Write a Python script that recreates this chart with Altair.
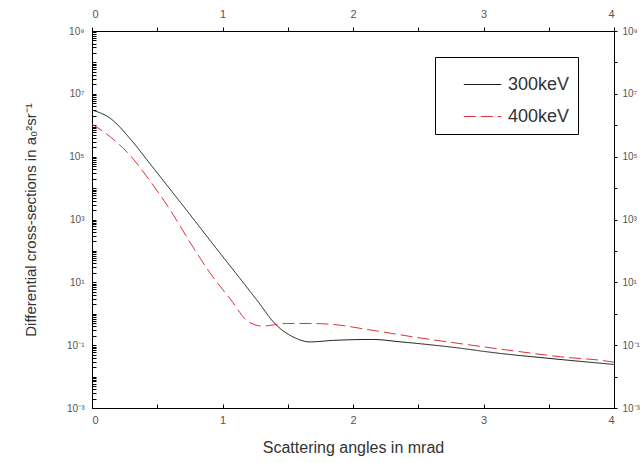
import altair as alt
import pandas as pd

series_names = ["300keV", "400keV"]

angle_300 = [0.00, 0.14, 0.30, 0.44, 0.58, 0.75, 0.93, 1.11, 1.26, 1.41, 1.54, 1.67, 1.85, 2.15, 2.36, 2.74, 3.13, 3.51, 4.00]
sigma_300 = [3.05e6, 1.66e6, 3.4e5, 6.3e4, 1.15e4, 1.45e3, 158, 17.8, 2.84, 0.447, 0.184, 0.127, 0.142, 0.152, 0.128, 0.088, 0.0545, 0.0377, 0.0243]

angle_400 = [0.00, 0.14, 0.29, 0.44, 0.60, 0.75, 0.90, 1.06, 1.20, 1.31, 1.41, 1.49, 1.70, 1.85, 2.11, 2.49, 2.87, 3.25, 3.64, 3.89, 4.00]
sigma_400 = [1.09e6, 4.3e5, 1.12e5, 1.8e4, 1.99e3, 191, 21.1, 2.92, 0.552, 0.403, 0.456, 0.491, 0.49, 0.456, 0.316, 0.176, 0.105, 0.0644, 0.0406, 0.0333, 0.0288]

x_ticks = [0, 0.5, 1, 1.5, 2, 2.5, 3, 3.5, 4]
decades = [-3, -2, -1, 0, 1, 2, 3, 4, 5, 6, 7, 8, 9]
y_label_text = {9: "10⁹", 7: "10⁷", 5: "10⁵", 3: "10³", 1: "10¹", -1: "10⁻¹", -3: "10⁻³"}

df = pd.DataFrame(
    {"angle": angle_300, "sigma": sigma_300, "series": series_names[0]}
)
df = pd.concat(
    [df, pd.DataFrame({"angle": angle_400, "sigma": sigma_400, "series": series_names[1]})],
    ignore_index=True,
)

major_vals = [10.0 ** d for d in decades]
minor_vals = []
for d in decades[:-1]:
    for m in range(1, 10):
        minor_vals.append(m * 10.0 ** d)
minor_vals.append(1e9)

label_expr = ""
for e, txt in y_label_text.items():
    label_expr += f"abs(log(datum.value)/LN10 - ({e})) < 0.001 ? '{txt}' : "
label_expr += "''"

FONT = "Liberation Sans"
TXT = "#333333"
LAB = "#555555"

xscale = alt.Scale(domain=[0, 4], nice=False, zero=False)
yscale = alt.Scale(type="log", domain=[1e-3, 1e9], nice=False)

legend_cfg = dict(
    title=None,
    orient="none",
    legendX=343,
    legendY=26,
    symbolType="stroke",
    symbolSize=1400,
    symbolStrokeWidth=1.2,
    symbolOffset=20,
    labelFont=FONT,
    labelFontSize=18,
    labelColor=TXT,
    labelOffset=6,
    rowPadding=3,
    padding=8,
    strokeColor="black",
    fillColor="white",
)

color = alt.Color(
    "series:N",
    scale=alt.Scale(domain=series_names, range=["#1a1a1a", "#e0303c"]),
    legend=alt.Legend(**legend_cfg),
)
dash = alt.StrokeDash(
    "series:N",
    scale=alt.Scale(domain=series_names, range=[[1, 0], [12, 5]]),
    legend=alt.Legend(**legend_cfg),
)

left_axis = alt.Axis(
    orient="left",
    values=minor_vals,
    labelExpr=label_expr,
    tickSize={"expr": "-4"},
    tickColor="black",
    domainColor="black",
    labelFont=FONT,
    labelFontSize=10,
    labelColor=LAB,
    labelPadding=12,
    labelOverlap=False,
    grid=False,
    title="Differential cross-sections in a₀²sr⁻¹",
    titleFont=FONT,
    titleFontSize=15,
    titleFontWeight="normal",
    titleColor=TXT,
    titlePadding=28,
)
right_axis = alt.Axis(
    orient="right",
    values=major_vals,
    labelExpr=label_expr,
    tickSize=3,
    tickColor="black",
    domainColor="black",
    labelFont=FONT,
    labelFontSize=10,
    labelColor=LAB,
    labelPadding=5,
    labelOverlap=False,
    grid=False,
    title=None,
)
bottom_axis = alt.Axis(
    orient="bottom",
    values=x_ticks,
    labelExpr="datum.value % 1 == 0 ? format(datum.value, 'd') : ''",
    tickSize={"expr": "-4"},
    tickColor="black",
    domainColor="black",
    labelFont=FONT,
    labelFontSize=11,
    labelColor=LAB,
    labelPadding=10,
    grid=False,
    title="Scattering angles in mrad",
    titleFont=FONT,
    titleFontSize=16,
    titleFontWeight="normal",
    titleColor=TXT,
    titlePadding=14,
)
top_axis = alt.Axis(
    orient="top",
    values=x_ticks,
    labelExpr="datum.value % 1 == 0 ? format(datum.value, 'd') : ''",
    tickSize=4,
    tickColor="black",
    domainColor="black",
    labelFont=FONT,
    labelFontSize=11,
    labelColor=LAB,
    labelPadding=8,
    grid=False,
    title=None,
)

base = alt.Chart(df)

layer_a = base.mark_line(interpolate="monotone", strokeWidth=1).encode(
    x=alt.X("angle:Q", scale=xscale, axis=bottom_axis),
    y=alt.Y("sigma:Q", scale=yscale, axis=left_axis),
    color=color,
    strokeDash=dash,
    detail="series:N",
)
layer_b = base.mark_line(opacity=0).encode(
    x=alt.X("angle:Q", scale=xscale, axis=top_axis),
    y=alt.Y("sigma:Q", scale=yscale, axis=right_axis),
    detail="series:N",
)

chart = (
    alt.layer(layer_a, layer_b)
    .resolve_axis(x="independent", y="independent")
    .properties(
        width=522,
        height=377,
        autosize=alt.AutoSizeParams(type="none"),
        padding={"left": 92, "top": 31, "right": 30, "bottom": 55},
        background="white",
    )
    .configure_view(stroke="black", strokeWidth=1)
)

chart.save("out.html", embed_options={"renderer": "svg", "actions": False})
